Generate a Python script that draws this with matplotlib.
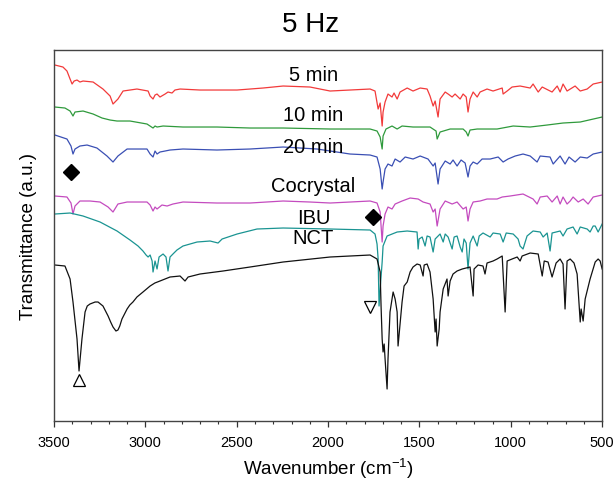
import matplotlib
matplotlib.use("Agg")
import matplotlib.pyplot as plt
from matplotlib.ticker import MultipleLocator

plt.rcParams['font.family'] = ['Liberation Sans', 'DejaVu Sans']
plt.rcParams['mathtext.default'] = 'regular'

# FTIR spectra, wavenumber (cm-1) vs transmittance (a.u., stacked)
min5_wn = [3495, 3451, 3429, 3412, 3401, 3390, 3374, 3358, 3341, 3286, 3232, 3193, 3177, 3150, 3122,
           3046, 2985, 2974, 2958, 2947, 2936, 2920, 2892, 2876, 2854, 2838, 2810, 2701, 2498, 2356,
           2246, 2099, 1989, 1880, 1770, 1743, 1726, 1715, 1704, 1699, 1688, 1672, 1650, 1639, 1622,
           1606, 1567, 1535, 1496, 1458, 1442, 1425, 1414, 1398, 1387, 1359, 1343, 1321, 1305, 1277,
           1261, 1244, 1234, 1223, 1206, 1184, 1168, 1130, 1097, 1047, 1042, 1020, 993, 949, 894,
           878, 850, 828, 774, 746, 730, 714, 692, 648, 620, 582, 549, 500]
min5_t = [35.6, 35.4, 35.0, 34.2, 33.7, 34.0, 34.1, 33.9, 34.0, 33.9, 33.2, 32.5, 31.7, 32.2, 33.0,
          33.2, 33.0, 32.5, 32.2, 32.6, 32.7, 32.4, 32.7, 32.9, 32.8, 33.1, 33.2, 33.1, 33.1, 33.3,
          33.5, 33.4, 33.0, 33.1, 33.2, 33.0, 31.2, 31.8, 29.5, 30.9, 31.9, 32.7, 32.4, 32.8, 32.2,
          32.9, 33.3, 33.0, 33.3, 33.2, 32.5, 31.5, 32.0, 30.4, 32.2, 32.9, 32.7, 32.4, 32.7, 32.2,
          32.7, 32.4, 30.9, 32.2, 32.9, 32.4, 32.9, 33.2, 33.0, 33.3, 32.7, 33.0, 33.4, 33.5, 33.3,
          33.7, 32.9, 33.4, 32.9, 33.5, 32.9, 33.7, 33.0, 33.5, 33.0, 33.2, 33.7, 33.9]

min10_wn = [3495, 3440, 3412, 3396, 3385, 3341, 3286, 3237, 3193, 3155, 3084, 2991, 2958, 2947, 2936,
            2903, 2794, 2608, 2427, 2246, 1989, 1770, 1732, 1715, 1704, 1699, 1683, 1650, 1622, 1595,
            1535, 1442, 1409, 1403, 1387, 1332, 1261, 1244, 1234, 1223, 1184, 1075, 987, 894, 801,
            714, 620, 500]
min10_t = [31.4, 31.3, 31.0, 30.5, 30.9, 31.0, 30.7, 30.3, 30.1, 30.0, 30.0, 29.7, 29.3, 29.5, 29.4,
           29.5, 29.4, 29.4, 29.3, 29.3, 29.2, 29.2, 29.0, 28.4, 27.2, 28.5, 29.2, 29.5, 29.2, 29.5,
           29.4, 29.4, 29.0, 28.2, 28.9, 29.2, 29.2, 28.9, 28.5, 29.1, 29.2, 29.2, 29.5, 29.4, 29.6,
           29.8, 29.9, 30.4]

min20_wn = [3495, 3429, 3407, 3396, 3385, 3358, 3319, 3265, 3210, 3177, 3150, 3100, 2991, 2974, 2958,
            2947, 2936, 2920, 2892, 2865, 2794, 2608, 2427, 2246, 2060, 1880, 1770, 1732, 1715, 1704,
            1699, 1688, 1672, 1650, 1633, 1606, 1578, 1535, 1496, 1453, 1425, 1414, 1398, 1387, 1359,
            1332, 1316, 1294, 1272, 1250, 1234, 1223, 1206, 1184, 1157, 1113, 1069, 1042, 1015, 976,
            933, 894, 856, 839, 785, 768, 730, 703, 681, 648, 620, 582, 549, 500]
min20_t = [28.6, 28.2, 27.5, 26.7, 27.2, 27.5, 27.6, 27.3, 26.5, 25.9, 26.5, 27.2, 27.2, 26.7, 26.4,
           27.0, 26.7, 26.9, 27.0, 27.1, 27.2, 27.1, 27.2, 27.4, 27.2, 26.7, 26.6, 26.4, 25.2, 23.2,
           23.9, 25.2, 25.7, 25.5, 26.2, 25.9, 26.4, 26.2, 26.5, 26.2, 25.5, 25.8, 23.7, 25.2, 26.0,
           25.7, 26.1, 25.5, 26.1, 25.8, 24.4, 25.5, 25.9, 25.7, 26.2, 26.2, 26.4, 25.9, 26.2, 26.5,
           26.7, 26.5, 25.9, 26.5, 26.4, 25.7, 26.5, 25.7, 26.4, 25.9, 26.4, 26.3, 26.7, 26.9]

cocrystal_wn = [3495, 3429, 3407, 3396, 3385, 3358, 3303, 3248, 3204, 3177, 3150, 3100, 2991, 2974, 2958,
                2947, 2936, 2909, 2881, 2849, 2794, 2608, 2427, 2246, 2099, 1989, 1770, 1732, 1715, 1704,
                1699, 1688, 1672, 1650, 1633, 1595, 1551, 1507, 1480, 1442, 1425, 1414, 1403, 1387, 1359,
                1321, 1294, 1261, 1244, 1234, 1223, 1206, 1168, 1130, 1075, 1047, 1004, 933, 878, 856,
                839, 801, 774, 746, 730, 714, 692, 675, 659, 631, 604, 577, 549, 500]
cocrystal_t = [22.5, 22.4, 21.8, 20.7, 21.5, 22.0, 22.0, 21.9, 21.4, 20.9, 21.7, 21.9, 21.9, 21.6, 21.0,
               21.4, 21.2, 21.6, 21.5, 21.7, 21.9, 21.8, 21.8, 22.0, 21.9, 21.8, 22.0, 21.8, 20.9, 17.9,
               19.5, 20.7, 21.4, 21.2, 21.7, 22.0, 22.3, 22.2, 21.9, 21.7, 20.9, 21.2, 19.5, 21.2, 22.0,
               21.7, 21.9, 21.2, 21.4, 20.0, 21.2, 21.9, 22.0, 22.2, 22.2, 22.4, 22.5, 22.7, 22.2, 21.7,
               22.4, 22.5, 21.9, 22.5, 21.7, 22.4, 21.7, 22.0, 22.4, 21.9, 22.2, 21.7, 22.4, 22.6]

ibu_wn = [3495, 3412, 3341, 3248, 3155, 3084, 3040, 3013, 2996, 2985, 2974, 2963, 2958, 2947, 2936,
          2925, 2903, 2887, 2876, 2865, 2849, 2827, 2794, 2717, 2646, 2602, 2580, 2498, 2389, 2246,
          1989, 1770, 1743, 1732, 1726, 1721, 1715, 1704, 1699, 1677, 1622, 1567, 1513, 1507, 1502,
          1485, 1469, 1458, 1442, 1425, 1414, 1387, 1370, 1359, 1343, 1321, 1310, 1294, 1277, 1266,
          1256, 1244, 1234, 1223, 1206, 1184, 1173, 1152, 1113, 1097, 1058, 1042, 1025, 987, 960,
          949, 933, 911, 878, 839, 823, 801, 785, 774, 730, 714, 692, 659, 637, 620, 582, 566,
          549, 538, 522, 500]
ibu_t = [20.7, 20.8, 20.5, 19.9, 19.0, 18.1, 17.5, 17.0, 16.6, 16.4, 16.6, 16.0, 14.9, 16.0, 15.2,
         16.4, 16.7, 16.4, 15.0, 16.4, 16.7, 17.1, 17.5, 17.9, 18.0, 17.8, 18.2, 18.7, 19.2, 19.3,
         19.2, 19.1, 18.7, 17.7, 16.2, 11.5, 13.2, 15.9, 17.5, 18.5, 18.9, 19.0, 18.9, 17.2, 18.2,
         18.4, 17.5, 18.5, 18.4, 16.9, 18.2, 18.7, 17.9, 18.7, 18.4, 17.2, 18.4, 18.5, 17.4, 16.9,
         18.2, 17.8, 15.2, 17.8, 18.5, 17.5, 18.5, 18.8, 18.4, 18.8, 18.7, 17.9, 18.8, 18.7, 18.2,
         17.5, 17.2, 18.5, 19.0, 18.9, 18.4, 18.8, 17.0, 18.8, 19.0, 18.5, 19.2, 19.4, 18.7, 19.4, 19.2, 18.9,
         19.5, 19.5, 18.9, 19.7]

nct_wn = [3495, 3440, 3412, 3396, 3374, 3363, 3347, 3330, 3318, 3303, 3275, 3259, 3232, 3204, 3190,
          3177, 3161, 3150, 3140, 3128, 3100, 3085, 3068, 3046, 3013, 2974, 2948, 2920, 2865, 2810,
          2783, 2766, 2701, 2575, 2427, 2246, 1989, 1880, 1770, 1732, 1715, 1710, 1704, 1699, 1693,
          1688, 1677, 1672, 1661, 1644, 1633, 1622, 1617, 1606, 1595, 1584, 1567, 1551, 1535, 1513,
          1496, 1480, 1474, 1458, 1442, 1425, 1414, 1409, 1403, 1392, 1387, 1370, 1349, 1343, 1332,
          1316, 1294, 1266, 1223, 1206, 1201, 1179, 1152, 1141, 1130, 1097, 1075, 1047, 1031, 1020,
          993, 965, 949, 938, 894, 850, 828, 817, 796, 774, 752, 730, 714, 703, 692,
          675, 654, 637, 620, 615, 604, 593, 566, 538, 522, 511, 500]
nct_t = [15.6, 15.5, 14.2, 11.9, 8.2, 5.0, 8.2, 10.9, 11.5, 11.7, 11.9, 11.9, 11.5, 10.5, 9.9,
         9.4, 9.0, 9.1, 9.5, 10.2, 11.2, 11.6, 11.9, 12.4, 12.9, 13.5, 13.8, 14.0, 14.4, 14.5,
         14.0, 14.4, 14.7, 15.0, 15.4, 15.9, 16.4, 16.5, 16.6, 16.2, 14.9, 11.5, 8.2, 6.9, 7.7,
         6.2, 3.2, 6.2, 10.9, 12.9, 12.2, 10.9, 7.5, 9.7, 11.9, 13.5, 13.9, 14.9, 15.4, 15.7,
         15.6, 14.5, 15.6, 15.7, 14.9, 12.2, 8.9, 10.2, 7.5, 9.2, 10.9, 13.2, 14.2, 12.5, 14.0,
         14.7, 15.0, 15.2, 15.4, 12.5, 15.2, 15.6, 15.5, 14.7, 15.8, 16.0, 16.2, 16.5, 10.9, 16.0,
         16.2, 16.4, 16.0, 16.5, 16.8, 16.7, 14.5, 16.0, 15.9, 14.4, 15.8, 16.2, 15.7, 11.2, 16.0,
         16.2, 15.8, 14.7, 9.9, 11.2, 10.0, 12.2, 14.2, 15.9, 16.2, 16.0, 15.2]

labels = ['5 min', '10 min', '20 min', 'Cocrystal', 'IBU', 'NCT']
label_wn = 2080
label_t = [34.7, 30.7, 27.5, 23.6, 20.4, 18.4]

# peak markers: filled diamonds (cocrystal bands), open triangles (NCT / IBU bands)
diamond_wn = [3407, 1754]
diamond_t = [24.9, 20.4]
tri_down_wn, tri_down_t = 1770, 11.4
tri_up_wn, tri_up_t = 3363, 4.1

series = [
    (min5_wn, min5_t, '#f23a3a'),
    (min10_wn, min10_t, '#2f9a3c'),
    (min20_wn, min20_t, '#3a4fb4'),
    (cocrystal_wn, cocrystal_t, '#c44bbf'),
    (ibu_wn, ibu_t, '#1a9492'),
    (nct_wn, nct_t, '#111111'),
]

fig = plt.figure(figsize=(6.15, 4.85), dpi=100)
ax = fig.add_axes([0.0878, 0.1299, 0.8913, 0.7649])

for wn, t, c in series:
    ax.plot(wn, t, color=c, lw=0.9, solid_joinstyle='round')

for name, y in zip(labels, label_t):
    ax.text(label_wn, y, name, ha='center', va='center', fontsize=14.5)

ax.plot(diamond_wn, diamond_t, 'D', color='black', ms=8.5, ls='none')
ax.plot(tri_down_wn, tri_down_t, 'v', mfc='white', mec='black', mew=0.9, ms=8.5)
ax.plot(tri_up_wn, tri_up_t, '^', mfc='white', mec='black', mew=0.9, ms=8.5)

ax.set_xlim(3500, 500)
ax.set_ylim(0, 37.1)
ax.xaxis.set_major_locator(MultipleLocator(500))
ax.xaxis.set_minor_locator(MultipleLocator(100))
ax.tick_params(axis='x', which='major', direction='out', length=4, width=0.9,
               labelsize=10.5, pad=6, colors='#333333', labelcolor='black')
ax.tick_params(axis='x', which='minor', direction='out', length=2.5, width=0.8, colors='#333333')
ax.set_yticks([])
for s in ax.spines.values():
    s.set_color('#444444')
    s.set_linewidth(1.0)

ax.set_xlabel('Wavenumber (cm$^{-1}$)', fontsize=13.5, labelpad=5)
ax.set_ylabel('Transmittance (a.u.)', fontsize=13.5, labelpad=12)
fig.text(0.505, 0.948, '5 Hz', ha='center', va='center', fontsize=20)

fig.savefig('out.png', dpi=100)
